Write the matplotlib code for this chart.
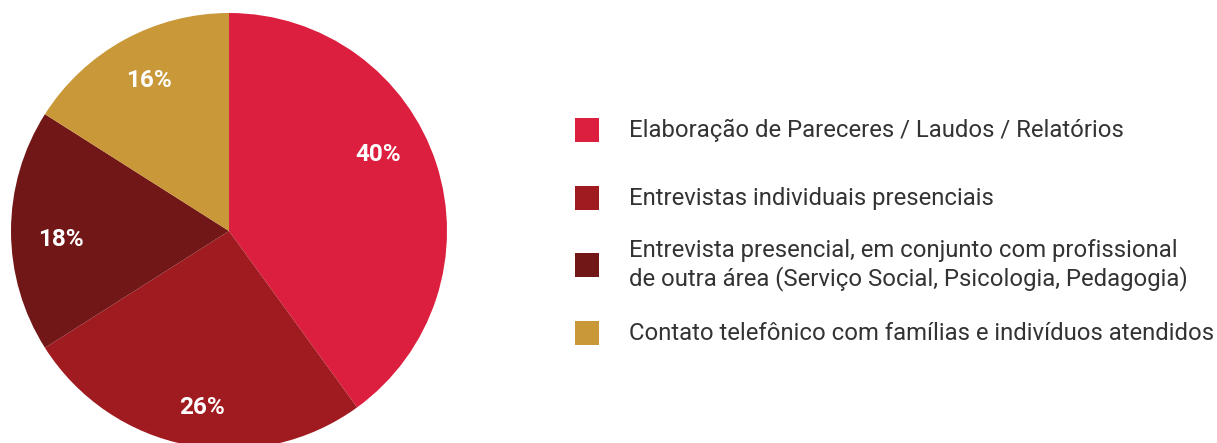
import matplotlib.pyplot as plt
import numpy as np

# dados
categorias = [
    "Elaboração de Pareceres / Laudos / Relatórios",
    "Entrevistas individuais presenciais",
    "Entrevista presencial, em conjunto com profissional\nde outra área (Serviço Social, Psicologia, Pedagogia)",
    "Contato telefônico com famílias e indivíduos atendidos",
]
valores = [40, 26, 18, 16]
cores = ["#DC1F3E", "#A01B20", "#721718", "#C99838"]

plt.rcParams['font.family'] = ['Roboto', 'DejaVu Sans']

W, H = 1217, 443
fig = plt.figure(figsize=(W / 100, H / 100), dpi=100)

# pizza: centro (229, 231) px, raio 218 px
cx, cy, r = 229, H - 231, 218
ax = fig.add_axes([(cx - r) / W, (cy - r) / H, 2 * r / W, 2 * r / H])
wedges, _, autotexts = ax.pie(
    valores, colors=cores, startangle=90, counterclock=False,
    autopct=lambda p: f"{p:.0f}%", pctdistance=0.78,
    wedgeprops=dict(linewidth=0),
    textprops=dict(color="white", fontsize=17.5, fontweight="bold"))
ax.set_xlim(-1, 1)
ax.set_ylim(-1, 1)
ax.set_aspect("equal")
ax.axis("off")

# ajustes finos dos rótulos (ângulo em graus, distância do centro)
pos_rotulos = [(27, 0.77), (-98.7, 0.82), (183, 0.77), (118, 0.78)]
for t, (a, d) in zip(autotexts, pos_rotulos):
    a = np.deg2rad(a)
    t.set_position((d * np.cos(a), d * np.sin(a)))

# legenda manual
ys = [130, 198, 265, 333]
for cor, rotulo, y in zip(cores, categorias, ys):
    fig.patches.append(plt.Rectangle((575 / W, (H - y - 12) / H), 24 / W, 24 / H,
                                     transform=fig.transFigure, facecolor=cor,
                                     edgecolor="none"))
    fig.text(629 / W, (H - y) / H, rotulo, fontsize=17.2, color="#333333",
             va="center", ha="left", linespacing=1.2)

fig.savefig("out.png", dpi=100)
